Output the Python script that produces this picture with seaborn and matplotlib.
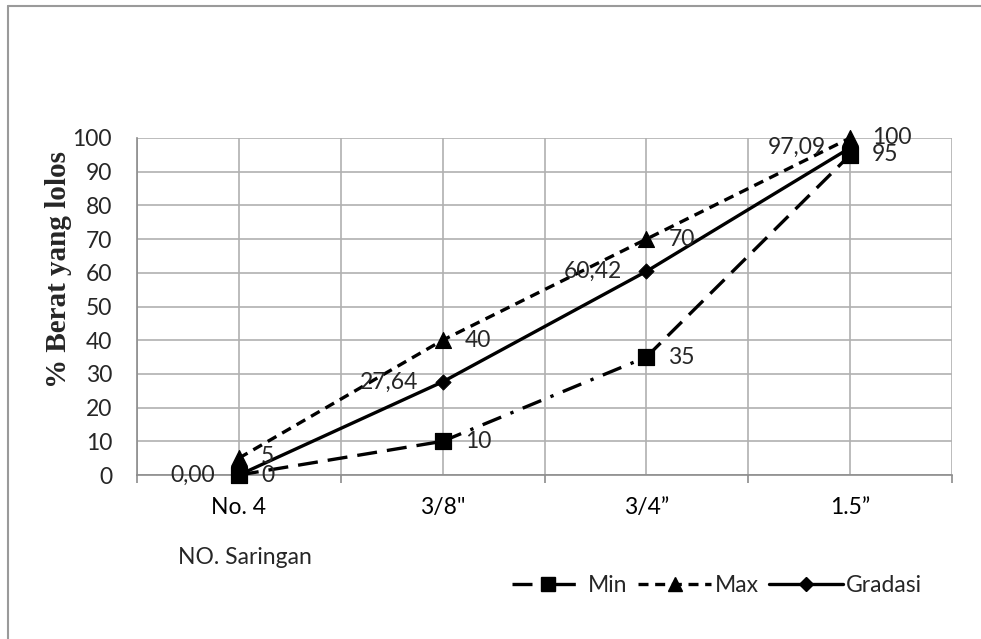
import numpy as np
import pandas as pd
import matplotlib
matplotlib.use("Agg")
import matplotlib.pyplot as plt
from matplotlib.lines import Line2D
import seaborn as sns

categories = ["No. 4", "3/8\"", "3/4\u201d", "1.5\u201d"]
min_vals = [0, 10, 35, 95]
max_vals = [5, 40, 70, 100]
gradasi_vals = [0.00, 27.64, 60.42, 97.09]
y_ticks = list(range(0, 101, 10))

sns.set_theme(style="white")
plt.rcParams["font.family"] = ["Lato", "DejaVu Sans"]

fig = plt.figure(figsize=(9.81, 6.39), dpi=100)
ax = fig.add_axes([137/981, 1-475/639, (952-137)/981, (475-138)/639])

pos = np.arange(len(categories))
df = pd.DataFrame({"pos": pos, "Min": min_vals, "Max": max_vals, "Gradasi": gradasi_vals})

LW = 2.4
# Min: segments with different dash styles
min_styles = [(0, (6, 3)), (0, (6, 3, 1, 3)), (0, (6, 3))]
for i in range(len(pos) - 1):
    seg = df.iloc[i:i+2]
    sns.lineplot(data=seg, x="pos", y="Min", ax=ax, color="black", linewidth=LW,
                 linestyle=min_styles[i], zorder=3, clip_on=False)
sns.scatterplot(data=df, x="pos", y="Min", ax=ax, color="black", marker="s", s=120,
                edgecolor="black", zorder=4, clip_on=False)

# Max
sns.lineplot(data=df, x="pos", y="Max", ax=ax, color="black", linewidth=LW,
             linestyle=(0, (3, 2)), zorder=3, clip_on=False)
sns.scatterplot(data=df, x="pos", y="Max", ax=ax, color="black", marker="^", s=130,
                edgecolor="black", zorder=4, clip_on=False)

# Gradasi
sns.lineplot(data=df, x="pos", y="Gradasi", ax=ax, color="black", linewidth=LW,
             linestyle="-", zorder=3, clip_on=False)
sns.scatterplot(data=df, x="pos", y="Gradasi", ax=ax, color="black", marker="D", s=60,
                edgecolor="black", zorder=4, clip_on=False)

# data labels
fs = 16.5
for x, v in zip(pos, min_vals):
    ax.annotate(f"{v}", (x, v), xytext=(22, 0), textcoords="offset pixels",
                ha="left", va="center", fontsize=fs, zorder=5)
for x, v in zip(pos, max_vals):
    dy = 2 if v == 5 else 0
    ax.annotate(f"{v}", (x, v), xytext=(22, dy), textcoords="offset pixels",
                ha="left", va="center", fontsize=fs, zorder=5)
for x, v in zip(pos, gradasi_vals):
    ax.annotate(f"{v:.2f}".replace(".", ","), (x, v), xytext=(-24, 0),
                textcoords="offset pixels", ha="right", va="center", fontsize=fs, zorder=5)

# axes
ax.set_xlim(-0.5, len(categories) - 0.5)
ax.set_ylim(0, 100)
ax.set_xticks(pos)
ax.set_xticklabels(categories, fontsize=fs)
ax.set_xticks(np.arange(-0.5, len(categories), 1.0), minor=True)
ax.set_yticks(y_ticks)
ax.set_yticklabels([str(t) for t in y_ticks], fontsize=fs)
ax.set_xlabel("")
ax.set_ylabel("")

gc = "#b0b0b0"
for xv in np.arange(-0.5, len(categories), 0.5):
    ax.axvline(xv, color=gc, linewidth=1.2, zorder=1)
for yv in y_ticks:
    ax.axhline(yv, color=gc, linewidth=1.2, zorder=1)

for s in ["top", "right"]:
    ax.spines[s].set_visible(False)
for s in ["left", "bottom"]:
    ax.spines[s].set_visible(True)
    ax.spines[s].set_color("#8c8c8c")
    ax.spines[s].set_linewidth(1.2)

ax.tick_params(axis="x", which="major", length=0, pad=16, colors="black")
ax.tick_params(axis="x", which="minor", length=6, width=1.2, color="#8c8c8c", direction="out", bottom=True)
ax.tick_params(axis="y", which="major", length=0, pad=18, left=False)

fig.text(59/981, 1-270/639, "% Berat yang lolos", rotation=90, ha="center", va="center",
         fontsize=21, fontweight="bold", family=["Liberation Serif", "DejaVu Serif"])
fig.text(178/981, 1-557/639, "NO. Saringan", ha="left", va="center", fontsize=fs)

handles = [
    Line2D([], [], color="black", linewidth=LW, linestyle=(0, (6, 3, 1, 3)), marker="s", markersize=10),
    Line2D([], [], color="black", linewidth=LW, linestyle=(0, (3, 2)), marker="^", markersize=10),
    Line2D([], [], color="black", linewidth=LW, linestyle="-", marker="D", markersize=7),
]
leg = fig.legend(handles, ["Min", "Max", "Gradasi"], loc="center right",
                 bbox_to_anchor=(922/981, 1-586/639),
                 ncol=3, frameon=False, fontsize=fs, handlelength=3.2, columnspacing=0.45,
                 handletextpad=0.15, borderaxespad=0, borderpad=0)

# outer chart border (top and left visible in the crop)
fig.add_artist(Line2D([8/981, 8/981], [0, 1-6/639], transform=fig.transFigure,
                      color="#9a9a9a", linewidth=1.5))
fig.add_artist(Line2D([8/981, 1], [1-6/639, 1-6/639], transform=fig.transFigure,
                      color="#9a9a9a", linewidth=1.5))

fig.savefig("out.png", dpi=100)
